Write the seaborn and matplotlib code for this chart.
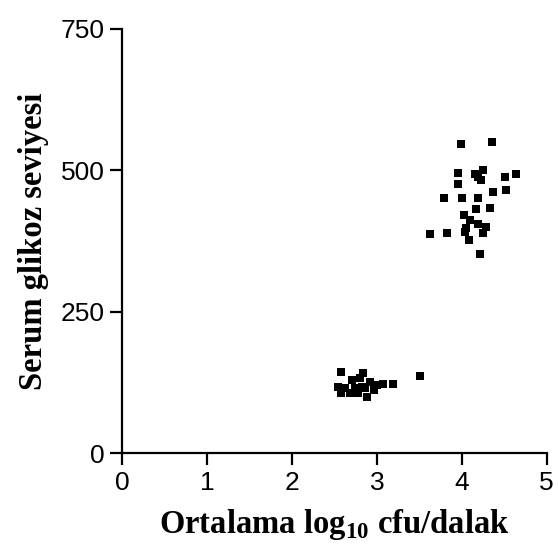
import matplotlib
matplotlib.use("Agg")
import pandas as pd
import matplotlib.pyplot as plt
import seaborn as sns

# Mean log10 cfu per spleen vs serum glucose, two groups
low_x = [2.58, 2.54, 2.58, 2.70, 2.84, 2.82, 2.78, 2.88, 2.96, 2.92,
         3.07, 3.19, 2.68, 2.74, 3.00, 3.51, 2.62, 2.86, 2.80]
low_y = [144, 117, 106, 129, 141, 117, 106, 100, 111, 126,
         123, 123, 106, 115, 120, 137, 115, 115, 133]

high_x = [3.99, 4.36, 3.96, 3.96, 4.15, 4.25, 4.23, 4.19, 4.51, 4.64,
          4.37, 4.52, 3.79, 4.00, 4.19, 4.17, 4.33, 4.02, 4.10, 4.19,
          4.29, 4.05, 4.04, 3.62, 3.83, 4.25, 4.09, 4.21]
high_y = [546, 551, 496, 476, 494, 501, 483, 489, 489, 493,
          461, 466, 451, 451, 451, 431, 433, 421, 412, 406,
          400, 398, 391, 387, 389, 390, 377, 352]

df = pd.DataFrame({"cfu": low_x + high_x, "glucose": low_y + high_y})

sns.set_style("ticks")
plt.rcParams["font.family"] = ["Liberation Sans", "DejaVu Sans"]
plt.rcParams["mathtext.fontset"] = "custom"
plt.rcParams["mathtext.rm"] = "Liberation Serif:bold"
plt.rcParams["mathtext.bf"] = "Liberation Serif:bold"
plt.rcParams["text.color"] = "black"
plt.rcParams["axes.labelcolor"] = "black"

fig = plt.figure(figsize=(5.59, 5.46), dpi=100)
ax = fig.add_axes([0.219, 0.170, 0.759, 0.777])

sns.scatterplot(data=df, x="cfu", y="glucose", marker="s", s=34,
                color="black", edgecolor="black", linewidth=0, ax=ax)

ax.set_xlim(0, 5)
ax.set_ylim(0, 750)
ax.set_xticks([0, 1, 2, 3, 4, 5])
ax.set_yticks([0, 250, 500, 750])
sns.despine(ax=ax)
for sp in ["left", "bottom"]:
    ax.spines[sp].set_linewidth(1.6)
    ax.spines[sp].set_color("black")
ax.tick_params(axis="both", length=8.5, width=1.6, color="black",
               labelcolor="black", labelsize=19, pad=4)

lab_font = dict(family="Liberation Serif", weight="bold", size=23.5,
                color="black")
ax.set_xlabel("Ortalama log$_{10}$ cfu/dalak", labelpad=9, **lab_font)
ax.set_ylabel("Serum glikoz seviyesi", labelpad=9, **lab_font)

fig.savefig("out.png", dpi=100)
